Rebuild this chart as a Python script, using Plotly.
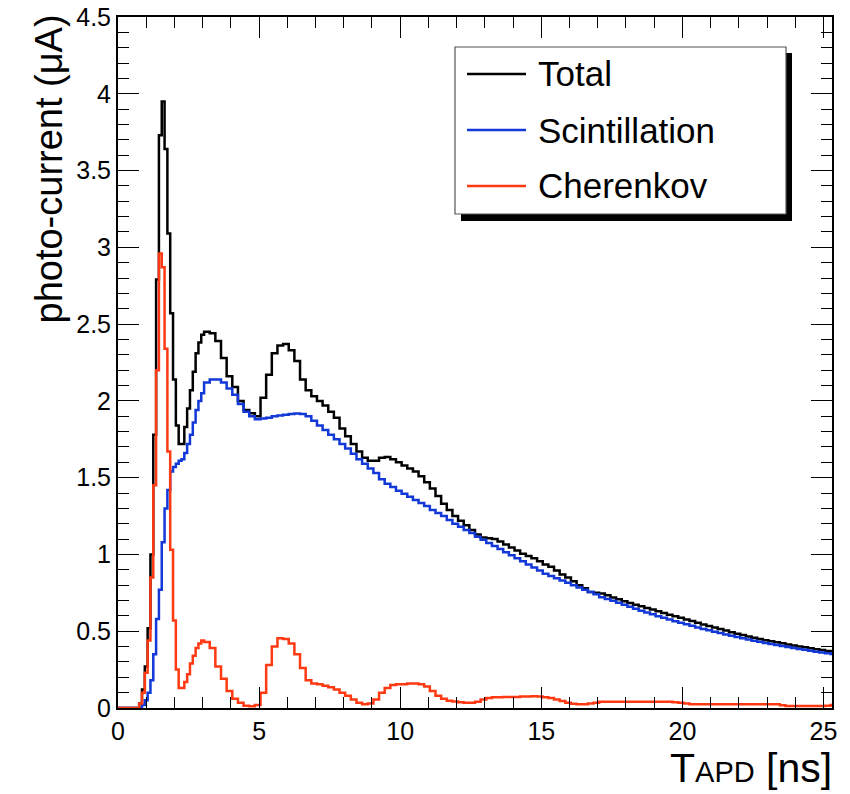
import numpy as np
import plotly.graph_objects as go

# ---------------- data (photo-current in uA, histogram bins) ----------------
# fine bins (0.1 ns wide), left edges start at 0.75 ns
total_fine = [0.03, 0.12, 0.27, 0.52, 1.00, 1.78, 2.79, 3.73, 3.95, 3.64,
              3.09, 2.57, 2.14, 1.84, 1.72, 1.72, 1.83, 1.95, 2.07, 2.19,
              2.31, 2.38, 2.43]
scint_fine = [0.00, 0.02, 0.05, 0.10, 0.18, 0.35, 0.58, 0.77, 1.08, 1.30,
              1.42, 1.54, 1.57, 1.59, 1.61, 1.62, 1.66, 1.72, 1.78, 1.86,
              1.94, 2.00, 2.05]
cher_fine = [0.03, 0.10, 0.23, 0.44, 0.85, 1.45, 2.20, 2.96, 2.87, 2.34,
             1.67, 1.03, 0.57, 0.25, 0.13, 0.13, 0.17, 0.22, 0.29, 0.34,
             0.39, 0.42, 0.44]

# coarse bins (0.2 ns wide), left edges start at 3.05 ns
total_coarse = [2.45, 2.44, 2.39, 2.28, 2.16, 2.09, 2.00, 1.94, 1.92, 1.90,
                2.02, 2.17, 2.31, 2.36, 2.37, 2.33, 2.26, 2.14, 2.07, 2.03,
                2.00, 1.97, 1.93, 1.89, 1.82, 1.77, 1.72, 1.67, 1.63, 1.61,
                1.61, 1.63, 1.635, 1.62, 1.60, 1.58, 1.56, 1.54, 1.51, 1.47,
                1.43, 1.38, 1.33, 1.29, 1.25, 1.22, 1.19, 1.16, 1.13, 1.11,
                1.105, 1.10, 1.085, 1.065, 1.045, 1.025, 1.005, 0.99, 0.975, 0.955,
                0.935, 0.92, 0.895, 0.87, 0.85, 0.825, 0.80, 0.78, 0.755, 0.75,
                0.745, 0.735, 0.72, 0.708, 0.695, 0.683, 0.672, 0.662, 0.652, 0.642,
                0.63, 0.619, 0.608, 0.597, 0.587, 0.577, 0.566, 0.555, 0.544, 0.534,
                0.524, 0.514, 0.504, 0.494, 0.484, 0.475, 0.466, 0.458, 0.450, 0.442,
                0.435, 0.428, 0.421, 0.414, 0.407, 0.401, 0.395, 0.389, 0.383, 0.377,
                0.372, 0.368]
scint_coarse = [2.12, 2.14, 2.14, 2.12, 2.08, 2.04, 1.98, 1.93, 1.90, 1.88,
                1.885, 1.89, 1.90, 1.905, 1.91, 1.915, 1.918, 1.915, 1.90, 1.87,
                1.84, 1.81, 1.78, 1.75, 1.72, 1.69, 1.655, 1.62, 1.59, 1.56,
                1.53, 1.49, 1.46, 1.44, 1.415, 1.395, 1.375, 1.355, 1.335, 1.315,
                1.29, 1.27, 1.25, 1.225, 1.20, 1.18, 1.16, 1.14, 1.115, 1.095,
                1.075, 1.055, 1.035, 1.015, 0.995, 0.975, 0.955, 0.935, 0.915, 0.895,
                0.875, 0.86, 0.845, 0.83, 0.815, 0.80, 0.785, 0.77, 0.755, 0.74,
                0.722, 0.71, 0.698, 0.686, 0.672, 0.659, 0.646, 0.634, 0.622, 0.61,
                0.598, 0.587, 0.576, 0.565, 0.555, 0.545, 0.535, 0.525, 0.515, 0.506,
                0.497, 0.488, 0.479, 0.47, 0.462, 0.454, 0.446, 0.438, 0.431, 0.424,
                0.417, 0.41, 0.403, 0.397, 0.391, 0.385, 0.379, 0.373, 0.367, 0.361,
                0.356, 0.351]
cher_coarse = [0.43, 0.39, 0.27, 0.19, 0.11, 0.06, 0.035, 0.015, 0.012, 0.02,
               0.10, 0.28, 0.40, 0.455, 0.45, 0.42, 0.35, 0.26, 0.18, 0.16,
               0.155, 0.145, 0.135, 0.12, 0.10, 0.08, 0.055, 0.035, 0.025, 0.03,
               0.055, 0.10, 0.13, 0.15, 0.155, 0.155, 0.16, 0.16, 0.155, 0.14,
               0.11, 0.08, 0.06, 0.048, 0.042, 0.038, 0.035, 0.035, 0.04, 0.055,
               0.065, 0.07, 0.07, 0.072, 0.072, 0.072, 0.075, 0.075, 0.076, 0.075,
               0.07, 0.065, 0.055, 0.045, 0.035, 0.028, 0.025, 0.024, 0.03, 0.035,
               0.04, 0.04, 0.04, 0.04, 0.04, 0.04, 0.04, 0.04, 0.04, 0.04,
               0.04, 0.04, 0.04, 0.038, 0.035, 0.03, 0.025, 0.024, 0.024, 0.024,
               0.024, 0.024, 0.024, 0.024, 0.024, 0.024, 0.024, 0.024, 0.024, 0.024,
               0.024, 0.024, 0.018, 0.013, 0.013, 0.013, 0.013, 0.013, 0.013, 0.013,
               0.015, 0.02]

series_names = ["Total", "Scintillation", "Cherenkov"]
series_colors = ["#000000", "#1238d8", "#ff3a12"]
x_tick_vals = [0, 5, 10, 15, 20, 25]
y_tick_vals = [0, 0.5, 1, 1.5, 2, 2.5, 3, 3.5, 4, 4.5]

# bin left edges
t_fine = np.round(0.75 + 0.1 * np.arange(len(total_fine)), 3)
t_coarse = np.round(3.05 + 0.2 * np.arange(len(total_coarse)), 3)
t_end = round(t_coarse[-1] + 0.2, 3)


def step_xy(fine, coarse):
    x = [0.0] + list(t_fine) + list(t_coarse) + [t_end]
    y = [0.0] + list(fine) + list(coarse) + [coarse[-1]]
    return x, y


fig = go.Figure()
for name, col, fine, coarse in zip(series_names, series_colors,
                                   [total_fine, scint_fine, cher_fine],
                                   [total_coarse, scint_coarse, cher_coarse]):
    x, y = step_xy(fine, coarse)
    fig.add_trace(go.Scatter(x=x, y=y, mode="lines", name=name,
                             line=dict(color=col, width=2.5, shape="hv"),
                             showlegend=False))

# pixel helpers (plot area: x 118..832, y 17..708)
L, R, T, B = 118, 832, 17, 708


def px(xp):
    return (xp - L) / (R - L)


def py(yp):
    return (B - yp) / (B - T)


shapes = []
# legend shadow + box
shapes.append(dict(type="rect", xref="paper", yref="paper",
                   x0=px(461), x1=px(792), y0=py(221), y1=py(53),
                   fillcolor="#000000", line=dict(width=0), layer="above"))
shapes.append(dict(type="rect", xref="paper", yref="paper",
                   x0=px(455), x1=px(786), y0=py(214), y1=py(47),
                   fillcolor="#ffffff", line=dict(color="#555555", width=1.2),
                   layer="above"))
annotations = []
row_y = [74, 130, 186]
for name, col, ry in zip(series_names, series_colors, row_y):
    shapes.append(dict(type="line", xref="paper", yref="paper",
                       x0=px(467), x1=px(526), y0=py(ry), y1=py(ry),
                       line=dict(color=col, width=2.5), layer="above"))
    annotations.append(dict(xref="paper", yref="paper", x=px(536), y=py(ry),
                            xanchor="left", yanchor="middle", showarrow=False,
                            text=name, font=dict(size=35, color="#000000")))

# axis titles
annotations.append(dict(xref="paper", yref="paper", x=px(48), y=py(13),
                        xanchor="center", yanchor="top", textangle=-90,
                        showarrow=False, text="photo-current (μA)",
                        font=dict(size=38, color="#000000")))
annotations.append(dict(xref="paper", yref="paper", x=px(834), y=py(793),
                        xanchor="right", yanchor="bottom", showarrow=False,
                        text="T<span style='font-size:29px'>APD</span> [ns]",
                        font=dict(size=41, color="#000000")))

axis_common = dict(showline=True, linecolor="#000000", linewidth=2,
                   mirror="allticks", ticks="inside", ticklen=21, tickwidth=1.3,
                   tickcolor="#000000", showgrid=False, zeroline=False,
                   automargin=False,
                   tickfont=dict(size=25, color="#000000"))

fig.update_layout(
    width=850, height=794,
    margin=dict(l=L, r=850 - R, t=T, b=794 - B, autoexpand=False),
    paper_bgcolor="#ffffff", plot_bgcolor="#ffffff",
    font=dict(family="Liberation Sans, Arial, Helvetica, sans-serif", color="#000000"),
    xaxis=dict(range=[0, 25.3], tickvals=x_tick_vals,
               minor=dict(dtick=1, tick0=0, ticks="inside", ticklen=11,
                          tickwidth=1.3, tickcolor="#000000", showgrid=False),
               **axis_common),
    yaxis=dict(range=[0, 4.5], tickvals=y_tick_vals,
               minor=dict(dtick=0.1, tick0=0, ticks="inside", ticklen=11,
                          tickwidth=1.3, tickcolor="#000000", showgrid=False),
               **axis_common),
    shapes=shapes, annotations=annotations,
)

fig.write_html("out.html", config={"displayModeBar": False},
               post_script="document.body.style.margin='0';document.body.style.overflow='hidden';")
